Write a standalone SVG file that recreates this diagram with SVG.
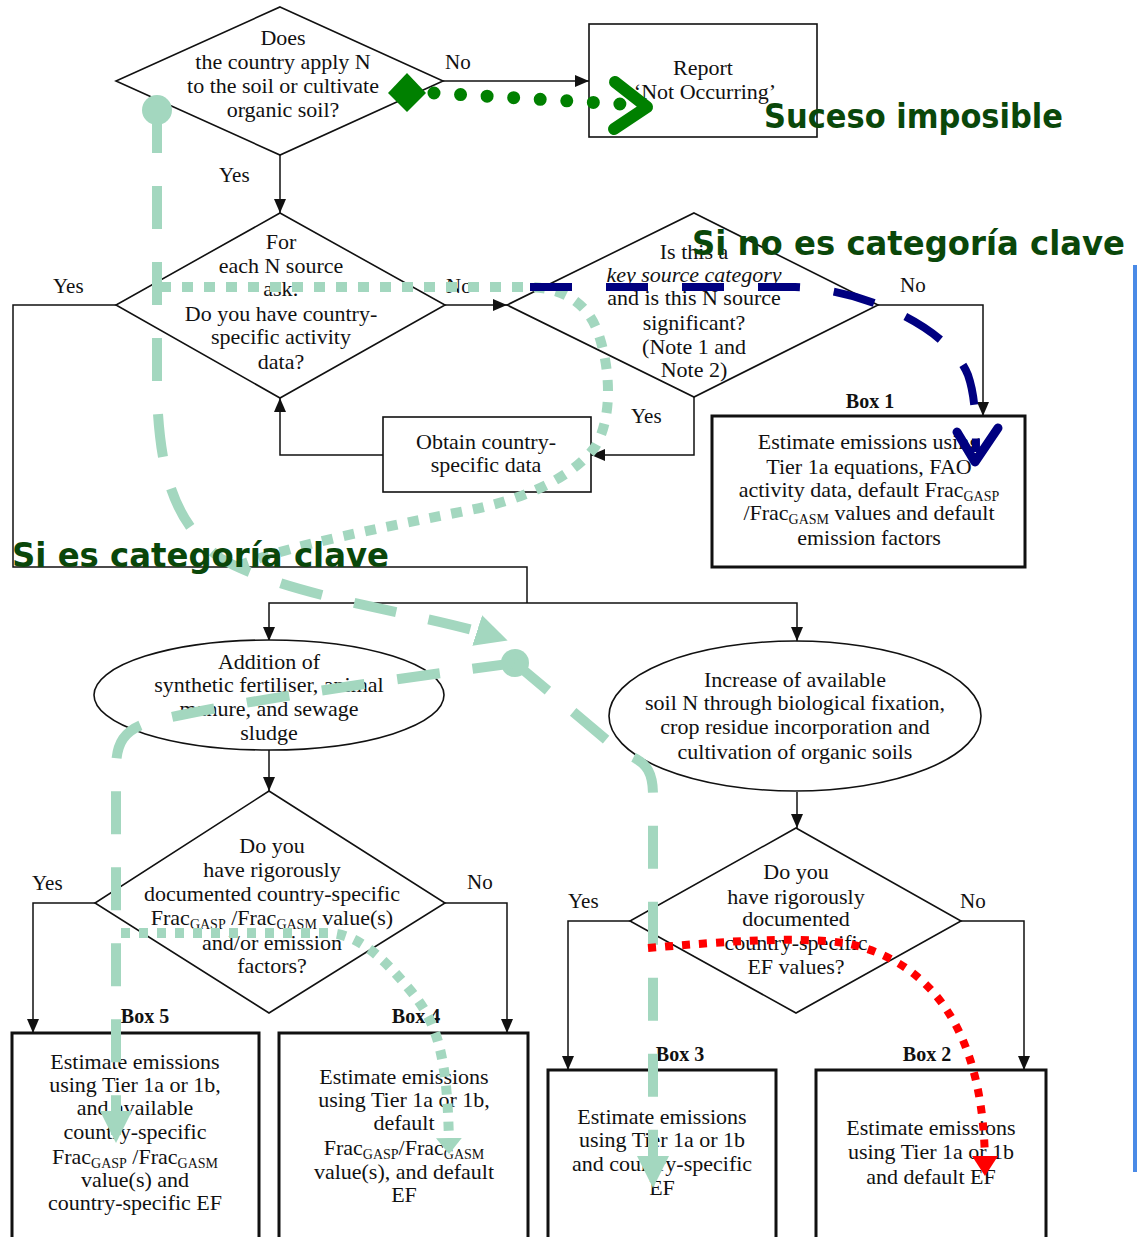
<svg xmlns="http://www.w3.org/2000/svg" width="1137" height="1237" viewBox="0 0 1137 1237">
  <style>
    .shape { fill: #fff; stroke: #111; stroke-width: 1.6; }
    .thick { fill: #fff; stroke: #111; stroke-width: 3; }
    .line { fill: none; stroke: #111; stroke-width: 1.5; }
    .t { font-family: "Liberation Serif", "Times New Roman", serif; font-size: 22px; fill: #111; text-anchor: middle; }
    .lbl { font-family: "Liberation Serif", "Times New Roman", serif; font-size: 21px; fill: #111; }
    .bx { font-family: "Liberation Serif", "Times New Roman", serif; font-size: 20px; font-weight: bold; fill: #111; text-anchor: middle; }
    .sub { font-size: 14px; }
    .note { font-family: "Comic Sans MS", "DejaVu Sans", sans-serif; font-weight: bold; font-size: 33px; fill: #0a470a; }
    .mint { fill: none; stroke: #a3d7bf; stroke-width: 10; }
  </style>
  <defs>
    <marker id="arr" viewBox="0 0 14 12" markerWidth="14" markerHeight="12" refX="14" refY="6" orient="auto" markerUnits="userSpaceOnUse">
      <path d="M0,0 L14,6 L0,12 z" fill="#111"/>
    </marker>
    <marker id="mintArr" viewBox="0 0 32 32" markerWidth="32" markerHeight="32" refX="24" refY="16" orient="auto" markerUnits="userSpaceOnUse">
      <path d="M0,0 L32,16 L0,32 z" fill="#a3d7bf"/>
    </marker>
    <marker id="mintArrS" viewBox="0 0 16 26" markerWidth="16" markerHeight="26" refX="10" refY="13" orient="auto" markerUnits="userSpaceOnUse">
      <path d="M0,0 L16,13 L0,26 z" fill="#a3d7bf"/>
    </marker>
    <marker id="redArr" viewBox="0 0 20 26" markerWidth="20" markerHeight="26" refX="12" refY="13" orient="auto" markerUnits="userSpaceOnUse">
      <path d="M0,0 L20,13 L0,26 z" fill="#ff0000"/>
    </marker>
  </defs>

  <rect width="1137" height="1237" fill="#fff"/>

  <!-- flow connectors -->
  <g id="connectors">
    <path class="line" d="M443,81 H589" marker-end="url(#arr)"/>
    <path class="line" d="M280,155 V213" marker-end="url(#arr)"/>
    <path class="line" d="M445,305 H507" marker-end="url(#arr)"/>
    <path class="line" d="M878,305 H983 V416" marker-end="url(#arr)"/>
    <path class="line" d="M694,397 V455 H591" marker-end="url(#arr)"/>
    <path class="line" d="M383,455 H280 V398" marker-end="url(#arr)"/>
    <path class="line" d="M116,305 H13 V567 H527 V603"/>
    <path class="line" d="M527,603 H269 V641" marker-end="url(#arr)"/>
    <path class="line" d="M527,603 H797 V641" marker-end="url(#arr)"/>
    <path class="line" d="M269,750 V791" marker-end="url(#arr)"/>
    <path class="line" d="M797,792 V828" marker-end="url(#arr)"/>
    <path class="line" d="M95,903 H33 V1033" marker-end="url(#arr)"/>
    <path class="line" d="M445,903 H507 V1033" marker-end="url(#arr)"/>
    <path class="line" d="M630,921 H568 V1070" marker-end="url(#arr)"/>
    <path class="line" d="M961,921 H1024 V1070" marker-end="url(#arr)"/>
    <text class="lbl" x="445" y="69">No</text>
    <text class="lbl" x="219" y="182">Yes</text>
    <text class="lbl" x="53" y="293">Yes</text>
    <text class="lbl" x="446" y="293">No</text>
    <text class="lbl" x="900" y="292">No</text>
    <text class="lbl" x="631" y="423">Yes</text>
    <text class="lbl" x="32" y="890">Yes</text>
    <text class="lbl" x="467" y="889">No</text>
    <text class="lbl" x="568" y="908">Yes</text>
    <text class="lbl" x="960" y="908">No</text>
  </g>

  <!-- decision: applies N -->
  <g id="q-apply-n">
    <polygon class="shape" points="280,7 443,81 280,155 116,81"/>
    <text class="t" x="283" y="45">Does</text>
    <text class="t" x="283" y="69">the country apply N</text>
    <text class="t" x="283" y="93">to the soil or cultivate</text>
    <text class="t" x="283" y="117">organic soil?</text>
  </g>

  <g id="report-not-occurring">
    <rect class="shape" x="589" y="24" width="228" height="113"/>
    <text class="t" x="703" y="75">Report</text>
    <text class="t" x="705" y="99">‘Not Occurring’</text>
  </g>

  <g id="q-activity-data">
    <polygon class="shape" points="280,213 445,305 280,398 116,305"/>
    <text class="t" x="281" y="249">For</text>
    <text class="t" x="281" y="273">each N source</text>
    <text class="t" x="281" y="296">ask:</text>
    <text class="t" x="281" y="321">Do you have country-</text>
    <text class="t" x="281" y="344">specific activity</text>
    <text class="t" x="281" y="369">data?</text>
  </g>

  <g id="q-key-source">
    <polygon class="shape" points="694,213 878,305 694,397 507,305"/>
    <text class="t" x="694" y="259">Is this a</text>
    <text class="t" x="694" y="282" font-style="italic">key source category</text>
    <text class="t" x="694" y="305">and is this N source</text>
    <text class="t" x="694" y="330">significant?</text>
    <text class="t" x="694" y="354">(Note 1 and</text>
    <text class="t" x="694" y="377">Note 2)</text>
  </g>

  <g id="obtain-data">
    <rect class="shape" x="383" y="417" width="208" height="75"/>
    <text class="t" x="486" y="449">Obtain country-</text>
    <text class="t" x="486" y="472">specific data</text>
  </g>

  <g id="box1">
    <text class="bx" x="870" y="408">Box 1</text>
    <rect class="thick" x="712" y="416" width="313" height="151"/>
    <text class="t" x="869" y="449">Estimate emissions using</text>
    <text class="t" x="869" y="474">Tier 1a equations, FAO</text>
    <text class="t" x="869" y="497">activity data, default Frac<tspan class="sub" dy="4">GASP</tspan></text>
    <text class="t" x="869" y="520">/Frac<tspan class="sub" dy="4">GASM</tspan><tspan dy="-4"> values and default</tspan></text>
    <text class="t" x="869" y="545">emission factors</text>
  </g>

  <g id="n-additions">
    <ellipse class="shape" cx="269" cy="695" rx="175" ry="55"/>
    <text class="t" x="269" y="669">Addition of</text>
    <text class="t" x="269" y="692">synthetic fertiliser, animal</text>
    <text class="t" x="269" y="716">manure, and sewage</text>
    <text class="t" x="269" y="740">sludge</text>
  </g>

  <g id="n-increase">
    <ellipse class="shape" cx="795" cy="716" rx="186" ry="75"/>
    <text class="t" x="795" y="687">Increase of available</text>
    <text class="t" x="795" y="710">soil N through biological fixation,</text>
    <text class="t" x="795" y="734">crop residue incorporation and</text>
    <text class="t" x="795" y="759">cultivation of organic soils</text>
  </g>

  <g id="q-frac-ef">
    <polygon class="shape" points="269,791 445,903 269,1013 95,903"/>
    <text class="t" x="272" y="853">Do you</text>
    <text class="t" x="272" y="877">have rigorously</text>
    <text class="t" x="272" y="901">documented country-specific</text>
    <text class="t" x="272" y="925">Frac<tspan class="sub" dy="4">GASP</tspan><tspan dy="-4"> /Frac</tspan><tspan class="sub" dy="4">GASM</tspan><tspan dy="-4"> value(s)</tspan></text>
    <text class="t" x="272" y="950">and/or emission</text>
    <text class="t" x="272" y="973">factors?</text>
  </g>

  <g id="q-ef">
    <polygon class="shape" points="796,828 961,921 796,1013 630,921"/>
    <text class="t" x="796" y="879">Do you</text>
    <text class="t" x="796" y="904">have rigorously</text>
    <text class="t" x="796" y="926">documented</text>
    <text class="t" x="796" y="950">country-specific</text>
    <text class="t" x="796" y="974">EF values?</text>
  </g>

  <g id="box5">
    <text class="bx" x="145" y="1023">Box 5</text>
    <rect class="thick" x="12" y="1033" width="247" height="220"/>
    <text class="t" x="135" y="1069">Estimate emissions</text>
    <text class="t" x="135" y="1092">using Tier 1a or 1b,</text>
    <text class="t" x="135" y="1115">and available</text>
    <text class="t" x="135" y="1139">country-specific</text>
    <text class="t" x="135" y="1164">Frac<tspan class="sub" dy="4">GASP</tspan><tspan dy="-4"> /Frac</tspan><tspan class="sub" dy="4">GASM</tspan></text>
    <text class="t" x="135" y="1187">value(s) and</text>
    <text class="t" x="135" y="1210">country-specific EF</text>
  </g>

  <g id="box4">
    <text class="bx" x="416" y="1023">Box 4</text>
    <rect class="thick" x="279" y="1033" width="249" height="220"/>
    <text class="t" x="404" y="1084">Estimate emissions</text>
    <text class="t" x="404" y="1107">using Tier 1a or 1b,</text>
    <text class="t" x="404" y="1130">default</text>
    <text class="t" x="404" y="1155">Frac<tspan class="sub" dy="4">GASP</tspan><tspan dy="-4">/Frac</tspan><tspan class="sub" dy="4">GASM</tspan></text>
    <text class="t" x="404" y="1179">value(s), and default</text>
    <text class="t" x="404" y="1202">EF</text>
  </g>

  <g id="box3">
    <text class="bx" x="680" y="1061">Box 3</text>
    <rect class="thick" x="548" y="1070" width="228" height="180"/>
    <text class="t" x="662" y="1124">Estimate emissions</text>
    <text class="t" x="662" y="1147">using Tier 1a or 1b</text>
    <text class="t" x="662" y="1171">and country-specific</text>
    <text class="t" x="662" y="1195">EF</text>
  </g>

  <g id="box2">
    <text class="bx" x="927" y="1061">Box 2</text>
    <rect class="thick" x="816" y="1070" width="230" height="180"/>
    <text class="t" x="931" y="1135">Estimate emissions</text>
    <text class="t" x="931" y="1159">using Tier 1a or 1b</text>
    <text class="t" x="931" y="1184">and default EF</text>
  </g>

  <!-- annotation layer: highlighted routes -->
  <g id="annotations">
    <!-- not occurring route -->
    <polygon points="407,73 426,93 407,112 388,93" fill="#008000"/>
    <path d="M434,93 L620,104" fill="none" stroke="#008000" stroke-width="13" stroke-linecap="round" stroke-dasharray="0 26.6"/>
    <polyline points="615,82 647,107 614,129" fill="none" stroke="#008000" stroke-width="12" stroke-linecap="round" stroke-linejoin="round"/>

    <!-- key category route -->
    <circle cx="157" cy="110" r="15" fill="#a3d7bf"/>
    <path class="mint" d="M157,110 V395 C160,470 172,520 220,558 C290,598 420,612 500,638" stroke-dasharray="43 33" marker-end="url(#mintArr)"/>
    <circle cx="515" cy="663" r="14" fill="#a3d7bf"/>
    <path class="mint" d="M515,663 C420,676 240,700 150,722 C122,730 116,745 116,770 V1135" stroke-dasharray="43 33" marker-end="url(#mintArr)"/>
    <path class="mint" d="M515,663 L622,753 C645,760 653,770 653,795 V1180" stroke-dasharray="43 33" marker-end="url(#mintArr)"/>

    <!-- activity data loop -->
    <path class="mint" d="M160,287 H525 C560,287 585,300 597,330 C612,370 612,420 595,447 C570,480 520,500 470,510 C380,528 290,545 232,568" stroke-dasharray="11 11"/>
    <path class="mint" d="M121,933 H330 C360,935 385,960 410,990 C435,1020 448,1050 449,1148" stroke-width="8" stroke-dasharray="9 9" marker-end="url(#mintArrS)"/>

    <!-- non-key category route -->
    <path d="M530,287 L795,287 C870,290 950,330 968,375 C975,395 976,420 976,452" fill="none" stroke="#000080" stroke-width="8" stroke-dasharray="42 34"/>
    <polyline points="957,432 975,462 998,428" fill="none" stroke="#000080" stroke-width="9" stroke-linecap="round" stroke-linejoin="round"/>

    <!-- default EF route -->
    <path d="M648,948 C720,942 790,936 845,943 C930,960 985,1030 985,1168" fill="none" stroke="#ff0000" stroke-width="8" stroke-dasharray="8 9" marker-end="url(#redArr)"/>

    <rect x="1133" y="265" width="4" height="907" fill="#4a8ae6"/>

    <text class="note" x="764" y="128" textLength="299" lengthAdjust="spacingAndGlyphs">Suceso imposible</text>
    <text class="note" x="692" y="255" textLength="433" lengthAdjust="spacingAndGlyphs">Si no es categoría clave</text>
    <text class="note" x="12" y="567" textLength="377" lengthAdjust="spacingAndGlyphs">Si es categoría clave</text>
  </g>
</svg>
